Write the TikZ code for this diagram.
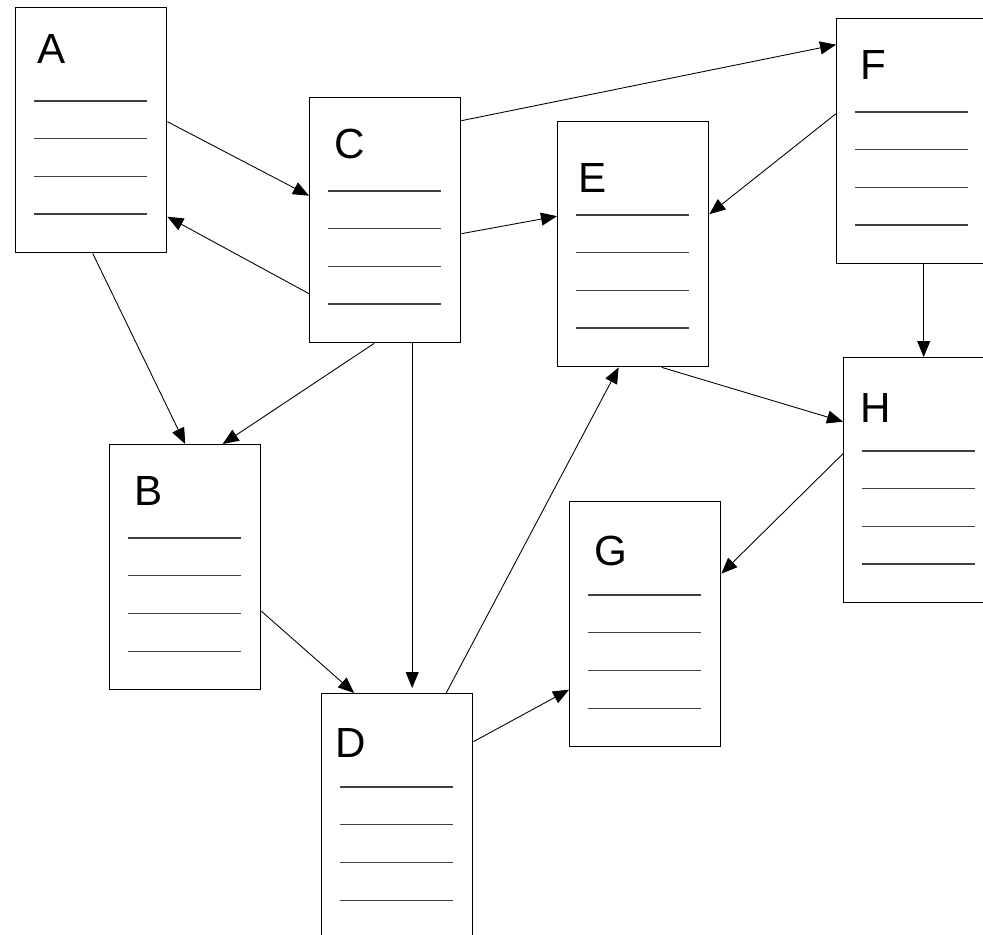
\documentclass[tikz,border=0pt]{standalone}
\usepackage{fontspec}
\setmainfont{Liberation Sans}
\usetikzlibrary{arrows.meta,calc}

\begin{document}
\begin{tikzpicture}[
  x=0.02cm, y=-0.02cm,
  >={Triangle[length=0.32cm, width=0.26cm]},
  page/.style={draw, line width=0.8pt, anchor=north west,
               minimum width=3.02cm, minimum height=4.9cm, inner sep=0pt},
  letter/.style={anchor=base west, inner sep=0pt,
                 font=\fontsize{24}{28}\selectfont},
  rule/.style={line width=0.7pt, black!75},
  link/.style={->, line width=0.5pt},
]
  \useasboundingbox (0,0) rectangle (983,934);

  % pages, placed by their top-left corners
  \node[page] (A) at (15,7)    {};
  \node[page] (B) at (109,444) {};
  \node[page] (C) at (309,97)  {};
  \node[page] (D) at (321,693) {};
  \node[page] (E) at (557,121) {};
  \node[page] (F) at (836,18)  {};
  \node[page] (G) at (569,501) {};
  \node[page] (H) at (843,357) {};

  % page titles
  \node[letter] (Aname) at ($(A.north west)+(22,56)$) {A};
  \node[letter] (Bname) at ($(B.north west)+(25,61)$) {B};
  \node[letter] (Cname) at ($(C.north west)+(25,61)$) {C};
  \node[letter] (Dname) at ($(D.north west)+(14,64)$) {D};
  \node[letter] (Ename) at ($(E.north west)+(21,71)$) {E};
  \node[letter] (Fname) at ($(F.north west)+(24,61)$) {F};
  \node[letter] (Gname) at ($(G.north west)+(25,64)$) {G};
  \node[letter] (Hname) at ($(H.north west)+(17,65)$) {H};

  % four text rules on every page
  \foreach \p in {A,B,C,D,E,F,G,H}
    \foreach \k in {0,...,3}
      \draw[rule] ($(\p.north west)+(19,94+37.7*\k)$) -- ++(113,0);

  % links
  \draw[link] ($(A.east)+(0,-8.5)$)  -- ($(C.west)+(0,-24.5)$);
  \draw[link] ($(C.west)+(0,73.5)$)  -- ($(A.east)+(0,86.5)$);
  \draw[link] ($(A.south)+(1.5,0)$)  -- (B.north);
  \draw[link] ($(C.south)+(-11,0)$)  -- ($(B.north)+(37.5,0)$);
  \draw[link] ($(C.south)+(27,0)$)   -- ($(D.north)+(15,-5)$);
  \draw[link] ($(C.east)+(0,13.5)$)  -- ($(E.west)+(0,-28)$);
  \draw[link] ($(C.east)+(0,-99.5)$) -- ($(F.west)+(0,-96.5)$);
  \draw[link] ($(F.west)+(0,-27.5)$) -- ($(E.east)+(0,-30)$);
  \draw[link] ($(F.south)+(11.5,0)$) -- ($(H.north)+(4.5,0)$);
  \draw[link] ($(E.south)+(28.5,0)$) -- ($(H.west)+(0,-58.5)$);
  \draw[link] ($(H.west)+(0,-26.5)$) -- ($(G.east)+(0,-50.5)$);
  \draw[link] ($(B.east)+(0,44)$)    -- ($(D.north)+(-43,0)$);
  \draw[link] ($(D.north)+(49,0)$)   -- ($(E.south)+(-14.5,0)$);
  \draw[link] ($(D.east)+(0,-74.5)$) -- ($(G.west)+(0,65.5)$);
\end{tikzpicture}
\end{document}
